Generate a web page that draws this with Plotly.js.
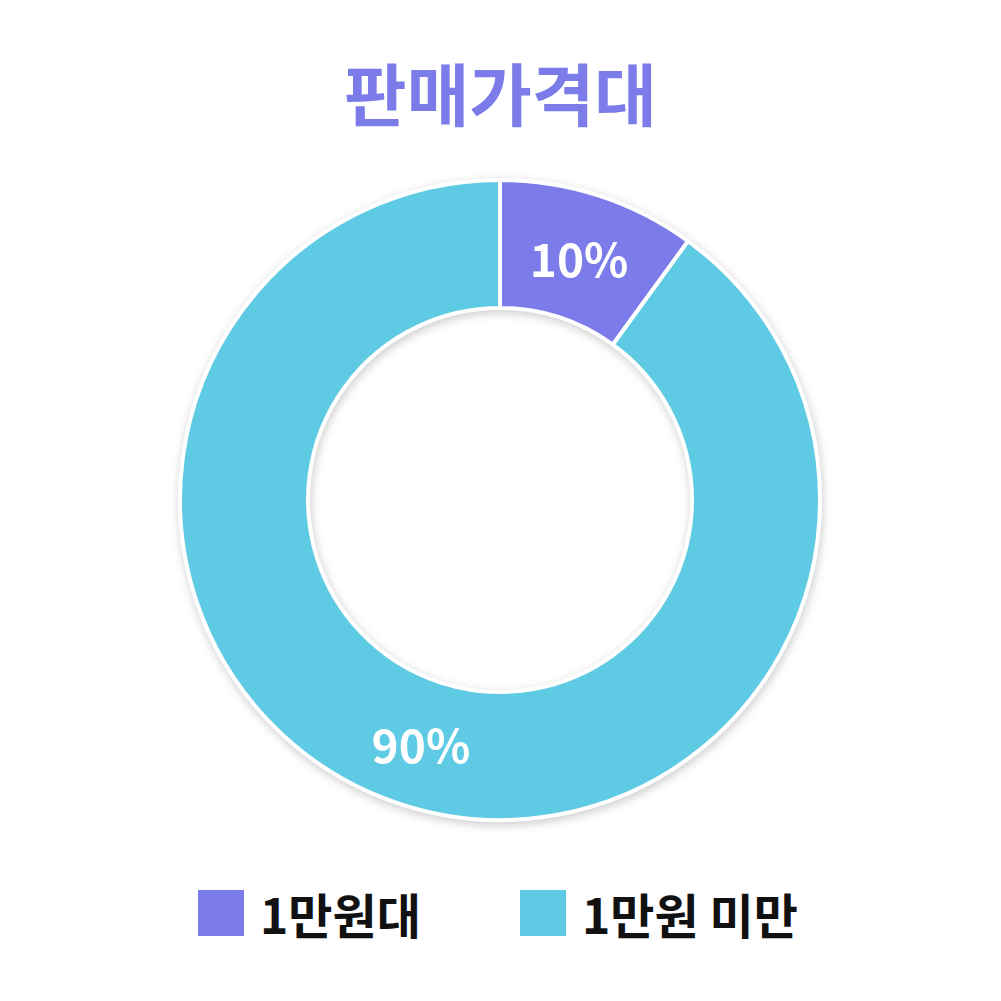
<!DOCTYPE html>
<html>
<head>
<meta charset="utf-8">
<script src="https://cdn.plot.ly/plotly-3.0.1.min.js"></script>
<style>
  html, body { margin: 0; padding: 0; background: #fff; }
  #chart { width: 1001px; height: 1001px; }
  .pielayer { filter: drop-shadow(1px 3px 5px rgba(0, 0, 0, 0.2)); }
</style>
</head>
<body>
<div id="chart"></div>
<script>
// Price range share
const labels = ['1만원대', '1만원 미만'];
const values = [10, 90];
const colors = ['#7b7ce9', '#5ecae3'];
const chartTitle = '판매가격대';

const W = 1001, H = 1001;
const px = (x) => x / W;
const py = (y) => 1 - y / H;

const font = '"Noto Sans CJK KR", "Noto Sans", sans-serif';

// legend drawn by hand so the swatches can be large
const legendX = [198, 520];
const legendY = 913;
const swatch = 46;

const shapes = labels.map((_, i) => ({
  type: 'rect', xref: 'paper', yref: 'paper',
  x0: px(legendX[i]), x1: px(legendX[i] + swatch),
  y0: py(legendY + swatch / 2), y1: py(legendY - swatch / 2),
  fillcolor: colors[i], line: { width: 0 }
}));

const annotations = labels.map((lab, i) => ({
  xref: 'paper', yref: 'paper',
  x: px(legendX[i] + swatch + 14), y: py(legendY),
  xanchor: 'left', yanchor: 'middle',
  text: '<b>' + lab + '</b>', showarrow: false,
  font: { family: font, size: 48, color: '#111' }
}));

Plotly.newPlot('chart', [{
  type: 'pie',
  labels: labels,
  values: values,
  hole: 0.6,
  sort: false,
  direction: 'clockwise',
  rotation: 0,
  marker: { colors: colors, line: { color: '#fff', width: 4 } },
  textinfo: 'percent',
  texttemplate: '<b>%{percent:.0%}</b>',
  textposition: 'inside',
  insidetextorientation: 'horizontal',
  textfont: { family: font, size: 46, color: '#fff' },
  domain: { x: [px(180), px(820)], y: [py(820), py(180)] },
  showlegend: false,
  hoverinfo: 'none'
}], {
  width: W, height: H,
  margin: { l: 0, r: 0, t: 0, b: 0 },
  paper_bgcolor: '#fff',
  title: {
    text: '<b>' + chartTitle + '</b>',
    x: 0.5, xanchor: 'center',
    y: py(97), yanchor: 'middle',
    font: { family: font, size: 68, color: '#7b7ce9' }
  },
  shapes: shapes,
  annotations: annotations
}, { staticPlot: true });
</script>
</body>
</html>
